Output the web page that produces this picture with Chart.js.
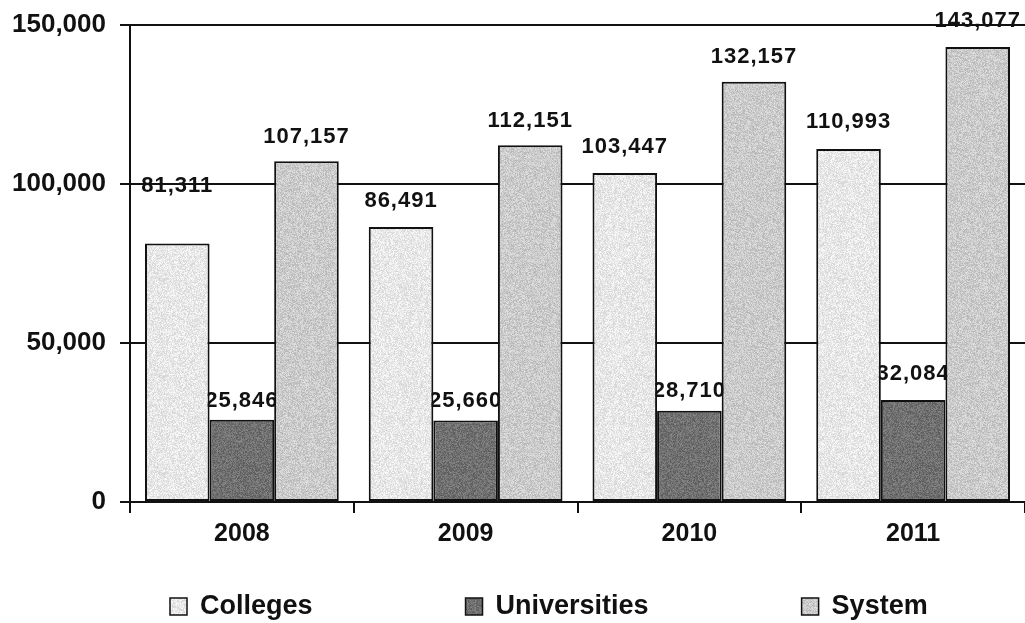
<!DOCTYPE html>
<html>
<head>
<meta charset="utf-8">
<script src="https://cdn.jsdelivr.net/npm/chart.js@4/dist/chart.umd.min.js"></script>
<style>
  html, body { margin: 0; padding: 0; background: #fff; }
  #wrap { width: 1025px; height: 623px; }
</style>
</head>
<body>
<div id="wrap"><canvas id="enrolChart" width="1025" height="623"></canvas></div>
<script>
const years = ["2008", "2009", "2010", "2011"];
const colleges = [81311, 86491, 103447, 110993];
const universities = [25846, 25660, 28710, 32084];
const systemTotal = [107157, 112151, 132157, 143077];
const yTicks = [0, 50000, 100000, 150000];

// how far each value label sits above its bar (px), per series
const labelLift = [[57, 26, 26, 27], [19, 19, 20, 26], [24, 24, 25, 26]];

const FONT = "'Liberation Sans', Arial, sans-serif";

// speckled grey fill like the old printed chart
function grain(base, spread, seed) {
  const c = document.createElement("canvas");
  c.width = 97; c.height = 97;
  const g = c.getContext("2d");
  const img = g.createImageData(97, 97);
  let s = seed;
  for (let i = 0; i < 97 * 97; i++) {
    s = (s * 48271) % 2147483647;
    const v = Math.max(0, Math.min(255, base + (s / 2147483647 - 0.5) * spread));
    img.data[i * 4] = v; img.data[i * 4 + 1] = v; img.data[i * 4 + 2] = v; img.data[i * 4 + 3] = 255;
  }
  g.putImageData(img, 0, 0);
  return g.createPattern(c, "repeat");
}

const fills = [grain(232, 40, 7), grain(112, 45, 13), grain(203, 45, 29)];

const fmt = v => v.toLocaleString("en-US");

// value labels go under the grid lines and bars, so draw them first
const valueLabels = {
  id: "valueLabels",
  beforeDraw(chart) {
    const ctx = chart.ctx;
    ctx.save();
    ctx.font = "bold 22px " + FONT;
    ctx.letterSpacing = "1px";
    ctx.fillStyle = "#111";
    ctx.textAlign = "center";
    ctx.textBaseline = "middle";
    chart.data.datasets.forEach((ds, i) => {
      chart.getDatasetMeta(i).data.forEach((bar, j) => {
        ctx.fillText(fmt(ds.data[j]), bar.x, bar.y - labelLift[i][j]);
      });
    });
    ctx.restore();
  }
};

// legend row along the bottom
const bottomLegend = {
  id: "bottomLegend",
  afterDraw(chart) {
    const ctx = chart.ctx;
    ctx.save();
    ctx.font = "bold 27px " + FONT;
    ctx.textBaseline = "middle";
    let x = 170;
    const y = 607;
    chart.data.datasets.forEach(ds => {
      ctx.fillStyle = ds.backgroundColor;
      ctx.fillRect(x, y - 9, 17, 17);
      ctx.strokeStyle = "#111";
      ctx.lineWidth = 1.5;
      ctx.strokeRect(x, y - 9, 17, 17);
      ctx.fillStyle = "#111";
      ctx.fillText(ds.label, x + 30, y);
      x += 30 + ctx.measureText(ds.label).width + 153;
    });
    ctx.restore();
  }
};

const barStyle = {
  borderColor: "#111",
  borderWidth: 2,
  borderSkipped: false,
  categoryPercentage: 0.866,
  barPercentage: 1.0
};

new Chart(document.getElementById("enrolChart"), {
  type: "bar",
  data: {
    labels: years,
    datasets: [
      { label: "Colleges", data: colleges, backgroundColor: fills[0], ...barStyle },
      { label: "Universities", data: universities, backgroundColor: fills[1], ...barStyle },
      { label: "System", data: systemTotal, backgroundColor: fills[2], ...barStyle }
    ]
  },
  options: {
    responsive: false,
    animation: false,
    devicePixelRatio: 1,
    layout: { padding: { top: 25, right: 0, left: 0, bottom: 0 } },
    plugins: {
      legend: { display: false },
      tooltip: { enabled: false }
    },
    scales: {
      x: {
        grid: { drawOnChartArea: false, color: "#111", lineWidth: 2, tickLength: 11 },
        border: { color: "#111", width: 2 },
        ticks: { color: "#111", padding: 6, font: { family: FONT, size: 25, weight: "bold" } },
        afterFit(s) { s.height = 121; }
      },
      y: {
        min: 0,
        max: 150000,
        afterBuildTicks(s) { s.ticks = yTicks.map(v => ({ value: v })); },
        grid: { color: "#111", lineWidth: 2, tickLength: 10 },
        border: { color: "#111", width: 2 },
        ticks: {
          color: "#111",
          padding: 14,
          font: { family: FONT, size: 26, weight: "bold", lineHeight: 0.8 },
          callback: v => fmt(v)
        },
        afterFit(s) { s.width = 130; }
      }
    }
  },
  plugins: [valueLabels, bottomLegend]
});
</script>
</body>
</html>
